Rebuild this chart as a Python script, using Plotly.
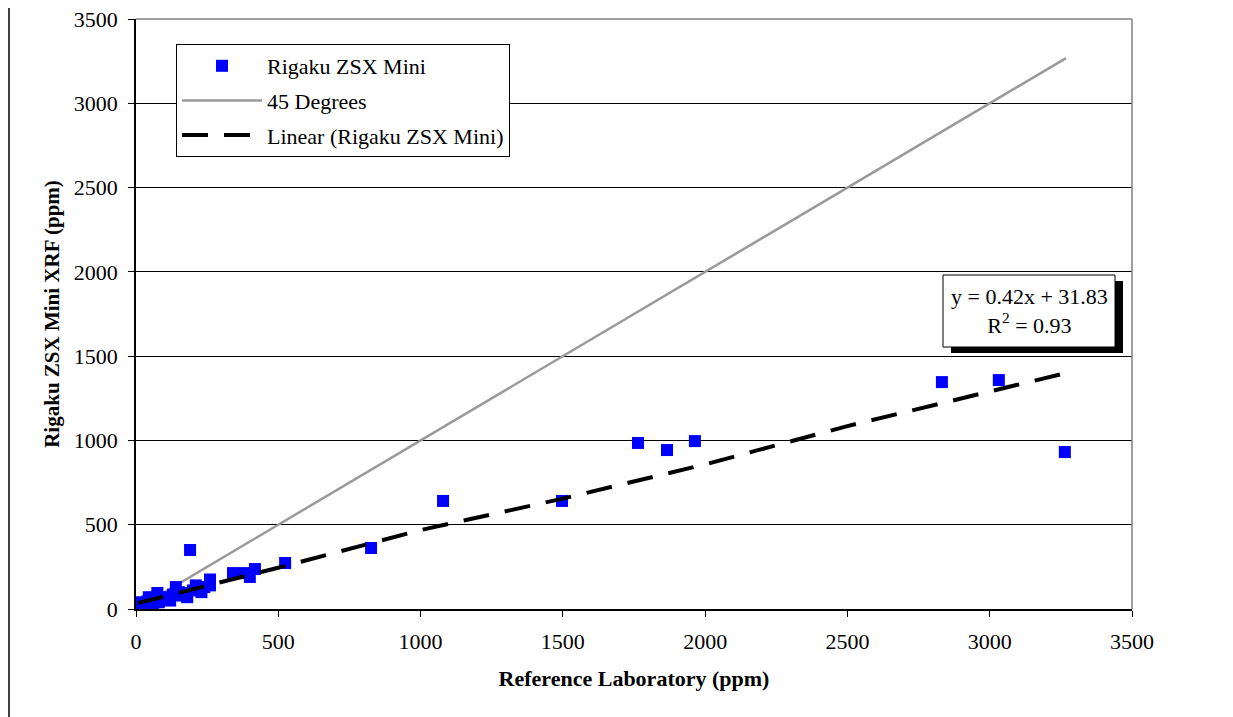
import plotly.graph_objects as go

# Measured data (Reference Laboratory ppm vs Rigaku ZSX Mini XRF ppm)
ref_lab = [10, 20, 30, 40, 45, 55, 60, 70, 75, 80, 90, 100, 110, 120, 130, 140,
           150, 160, 170, 180, 190, 200, 210, 220, 230, 240, 260, 260, 341, 383,
           400, 418, 524, 826, 1079, 1497, 1764, 1866, 1964, 2832, 3032, 3264]
rigaku = [35, 40, 30, 45, 70, 60, 35, 50, 95, 40, 55, 70, 60, 50, 85, 130,
          100, 80, 95, 70, 350, 110, 140, 125, 100, 130, 175, 140, 213, 213,
          190, 237, 273, 362, 641, 641, 985, 943, 996, 1346, 1358, 931]

# 45-degree reference line endpoints (x = y)
ref_line = [10, 3268]

# Trendline as drawn
trend_x = [7, 500, 1000, 1500, 2000, 2500, 3000, 3268]
trend_y = [35, 245, 468, 655, 858, 1085, 1290, 1400]

x_ticks = [0, 500, 1000, 1500, 2000, 2500, 3000, 3500]
y_ticks = [0, 500, 1000, 1500, 2000, 2500, 3000, 3500]

FONT = "Liberation Serif, Times New Roman, serif"

fig = go.Figure()
fig.add_trace(go.Scatter(
    x=ref_line, y=ref_line, mode="lines", name="45 Degrees",
    line=dict(color="#9a9a9a", width=2.5), legendgroup="b", legendrank=2))
fig.add_trace(go.Scatter(
    x=ref_lab, y=rigaku, mode="markers", name="Rigaku ZSX Mini",
    marker=dict(symbol="square", size=12, color="#0000ff", line=dict(width=0)),
    legendgroup="a", legendrank=1))
fig.add_trace(go.Scatter(
    x=trend_x, y=trend_y, mode="lines", name="Linear (Rigaku ZSX Mini)",
    line=dict(color="black", width=4, dash="26px,16px"),
    legendgroup="c", legendrank=3))

# page px -> data conversions (plot area: x 136..1132, y 19..609 on page)
def px2x(px):
    return (px - 136) / 996 * 3500

def px2y(py):
    return (609 - py) / 590 * 3500

shapes = [
    # shadow
    dict(type="rect", xref="x", yref="y", x0=px2x(951), x1=px2x(1123), y0=px2y(353), y1=px2y(281),
         fillcolor="black", line=dict(width=0), layer="above"),
    # box
    dict(type="rect", xref="x", yref="y", x0=px2x(943), x1=px2x(1115), y0=px2y(347), y1=px2y(275),
         fillcolor="white", line=dict(color="black", width=1), layer="above"),
    # outer frame lines
    dict(type="line", xref="paper", yref="paper", x0=(9 - 136) / 996, x1=(9 - 136) / 996,
         y0=-0.3, y1=1.1, line=dict(color="black", width=1.5)),
    dict(type="line", xref="paper", yref="paper", x0=(1230 - 136) / 996, x1=(1230 - 136) / 996,
         y0=-0.3, y1=1.1, line=dict(color="#333333", width=3)),
    # plot area border top/right gray
    dict(type="line", xref="paper", yref="paper", x0=0, x1=1, y0=1, y1=1,
         line=dict(color="#808080", width=1.5)),
    dict(type="line", xref="paper", yref="paper", x0=1, x1=1, y0=0, y1=1,
         line=dict(color="#808080", width=1.5)),
]

annotations = [
    dict(xref="x", yref="y", x=px2x(1029), y=px2y(311),
         text="y = 0.42x + 31.83<br>R<sup>2</sup> = 0.93", showarrow=False,
         font=dict(family=FONT, size=22, color="black"), align="center"),
]

# page has an 8px body margin, so figure coordinates = page - 8
fig.update_layout(
    width=1225, height=709,
    margin=dict(l=128, r=101, t=11, b=108, autoexpand=False),
    paper_bgcolor="white", plot_bgcolor="white",
    font=dict(family=FONT, size=21, color="black"),
    shapes=shapes, annotations=annotations,
    showlegend=True,
    legend=dict(
        x=(176 - 136) / 996, y=(609 - 44) / 590, xanchor="left", yanchor="top",
        bgcolor="white", bordercolor="black", borderwidth=1,
        font=dict(family=FONT, size=22, color="black"),
        itemwidth=80, traceorder="grouped", tracegroupgap=3,
    ),
    xaxis=dict(
        range=[0, 3500], tickvals=x_ticks, ticktext=[str(v) for v in x_ticks],
        showgrid=False, zeroline=False, showline=True, linecolor="black", linewidth=1.5,
        ticks="outside", ticklen=6, tickcolor="black", ticklabelstandoff=6,
        ticklabeloverflow="allow",
        tickfont=dict(family=FONT, size=22),
        title=dict(text="<b>Reference Laboratory (ppm)</b>", font=dict(family=FONT, size=22), standoff=17),
    ),
    yaxis=dict(
        range=[0, 3500], tickvals=y_ticks, ticktext=[str(v) for v in y_ticks],
        showgrid=True, gridcolor="black", gridwidth=1,
        zeroline=False, showline=True, linecolor="black", linewidth=1.5,
        ticks="outside", ticklen=6, tickcolor="black", ticklabelstandoff=6,
        ticklabeloverflow="allow",
        tickfont=dict(family=FONT, size=22),
        title=dict(text="<b>Rigaku ZSX Mini XRF (ppm)</b>", font=dict(family=FONT, size=21), standoff=8),
    ),
)

fig.write_html("out.html")
